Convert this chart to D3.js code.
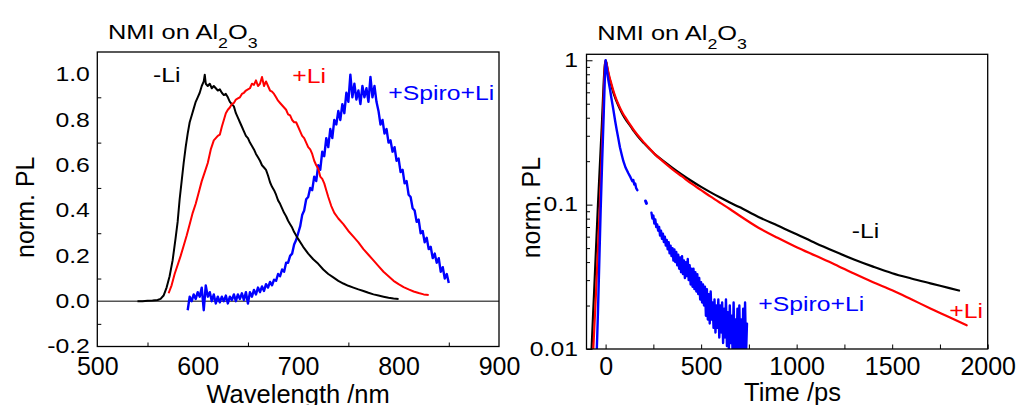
<!DOCTYPE html>
<html><head><meta charset="utf-8">
<script src="https://cdn.jsdelivr.net/npm/d3@7"></script>
<style>
body{margin:0;background:#fff}
svg{display:block}
text{font-family:"Liberation Sans",Arial,Helvetica,sans-serif}
</style>
</head><body>
<svg id="c" width="1019" height="405"></svg>
<script>
// ---------------- DATA ----------------
// Left panel: PL spectra (wavelength nm, normalised PL)
const wlBlack = [540,545,550,555,560,563,566,569,572,575,578,580,582,584,586,588,590,592,594,596,598,600,602,604,606,607,608,610,612,614,616,618,620,622,624,626,628,630,632,634,636,638,640,642,644,646,648,650,652,654,656,658,660,662,664,666,668,670,672,674,676,678,680,682,684,686,688,690,692,694,696,698,700,705,710,715,720,725,730,735,740,745,750,755,760,765,770,775,780,785,790,795,800];
const plBlack = [0.0,0.0,0.002,0.003,0.005,0.01,0.025,0.06,0.11,0.18,0.28,0.35,0.45,0.53,0.61,0.68,0.74,0.79,0.82,0.85,0.88,0.9,0.92,0.95,0.97,1.0,0.96,0.95,0.96,0.94,0.95,0.94,0.93,0.935,0.92,0.91,0.915,0.9,0.88,0.87,0.86,0.83,0.81,0.79,0.77,0.75,0.73,0.72,0.70,0.685,0.67,0.65,0.635,0.62,0.60,0.59,0.58,0.555,0.525,0.505,0.49,0.47,0.445,0.43,0.41,0.39,0.375,0.355,0.34,0.325,0.305,0.29,0.275,0.24,0.21,0.185,0.165,0.14,0.12,0.105,0.09,0.078,0.068,0.06,0.052,0.045,0.037,0.03,0.025,0.02,0.015,0.012,0.01];

const wlRed = [571,574,577,580,583,586,589,592,595,598,601,604,607,610,613,616,618,620,622,624,626,628,630,632,634,636,638,640,642,644,646,648,650,652,654,656,658,660,662,664,666,668,670,672,674,676,678,680,682,684,686,688,690,692,694,696,698,700,702,704,706,708,710,712,714,716,718,720,722,724,726,728,730,733,736,740,745,750,755,760,765,770,775,780,785,790,795,800,805,810,815,820,825,830];
const plRed = [0.035,0.07,0.12,0.16,0.2,0.245,0.29,0.34,0.39,0.43,0.48,0.53,0.57,0.61,0.67,0.71,0.72,0.73,0.735,0.77,0.8,0.83,0.845,0.855,0.87,0.875,0.89,0.895,0.9,0.915,0.92,0.93,0.935,0.94,0.96,0.955,0.975,0.95,0.96,0.99,0.95,0.97,0.95,0.93,0.925,0.915,0.9,0.885,0.875,0.865,0.855,0.845,0.825,0.82,0.8,0.79,0.79,0.77,0.75,0.73,0.72,0.70,0.68,0.67,0.65,0.62,0.6,0.585,0.55,0.54,0.52,0.49,0.46,0.42,0.39,0.365,0.34,0.31,0.285,0.26,0.23,0.205,0.18,0.155,0.13,0.11,0.09,0.075,0.062,0.052,0.043,0.036,0.03,0.027];

const wlBlue = d3.range(590, 851, 2);
const plBlue = [
 -0.04,0.02,0.0,0.03,0.01,0.04,0.02,0.06,-0.04,0.07,
 0.02,0.04,0.0,0.03,-0.01,0.02,-0.005,0.02,0.0,0.025,
 -0.01,0.02,0.005,0.03,0.0,0.03,0.01,0.035,0.005,0.04,
 -0.01,0.04,0.02,0.05,0.03,0.06,0.04,0.065,0.045,0.075,
 0.06,0.085,0.07,0.095,0.09,0.12,0.11,0.14,0.13,0.17,
 0.17,0.2,0.21,0.25,0.27,0.3,0.33,0.38,0.40,0.45,
 0.46,0.5,0.49,0.55,0.53,0.6,0.58,0.66,0.64,0.72,
 0.68,0.76,0.72,0.8,0.78,0.84,0.8,0.87,0.83,0.92,
 0.88,1.0,0.9,0.96,0.89,0.93,0.87,0.95,0.9,0.94,
 0.88,0.99,0.9,0.95,0.88,0.84,0.78,0.8,0.74,0.76,
 0.7,0.71,0.66,0.68,0.62,0.63,0.57,0.58,0.52,0.53,
 0.47,0.46,0.41,0.40,0.35,0.36,0.3,0.31,0.26,0.28,
 0.23,0.24,0.19,0.21,0.17,0.19,0.13,0.15,0.1,0.12,
 0.08];

const xTicksL = [500,600,700,800,900];
const xMinorL = [550,650,750,850];
const yTicksL = [-0.2,0.0,0.2,0.4,0.6,0.8,1.0];
const yMinorL = [-0.1,0.1,0.3,0.5,0.7,0.9];

// Right panel: PL decays (time ps, normalised PL, log)
const tBlack = [-80,-75,-60,-40,-20,-5,0,5,10,15,20,25,30,40,50,60,75,90,110,130,150,175,200,230,260,300,350,400,450,500,550,600,650,700,800,900,1000,1100,1200,1300,1400,1500,1600,1700,1800,1850];
const vBlack = [0.006,0.009,0.025,0.1,0.35,0.9,1.0,0.95,0.87,0.8,0.75,0.71,0.67,0.6,0.55,0.51,0.46,0.42,0.38,0.35,0.32,0.29,0.267,0.243,0.222,0.2018,0.1799,0.1614,0.1459,0.1327,0.1216,0.1119,0.1035,0.0962,0.0822,0.0716,0.0624,0.054,0.0473,0.0417,0.0372,0.0335,0.0308,0.0285,0.0264,0.0254];

const tRed = [-72,-66,-50,-30,-15,-4,0,10,20,30,40,50,60,75,90,110,130,150,175,200,230,260,300,350,400,450,500,550,600,650,700,800,900,1000,1100,1200,1300,1400,1500,1600,1700,1800,1890];
const vRed = [0.006,0.009,0.025,0.1,0.35,0.9,1.0,0.88,0.77,0.69,0.62,0.565,0.52,0.47,0.43,0.39,0.355,0.325,0.295,0.27,0.245,0.222,0.1995,0.1758,0.1567,0.1396,0.1259,0.1135,0.1028,0.0933,0.0841,0.0692,0.0589,0.0507,0.0442,0.0385,0.0333,0.029,0.0255,0.0221,0.0191,0.0166,0.0146];

const tBlueA = [-52,-47,-40,-33,-26,-18,-10,-4,0,5,10,15,23,30,40,50,58,66,75,85,93,105,119,130,140,145,150,155,160,166];
const vBlueA = [0.006,0.009,0.018,0.04,0.09,0.2,0.42,0.75,1.0,0.9,0.8,0.72,0.63,0.55,0.46,0.38,0.33,0.29,0.25,0.22,0.2,0.18,0.165,0.155,0.145,0.148,0.138,0.14,0.13,0.126];
const tBlueB = [209,214];
const vBlueB = [0.106,0.102];
const tBlueC = d3.range(240, 741, 5);
const vBlueC = [
 0.088,0.08,0.084,0.074,0.079,0.07,0.073,0.066,0.07,0.061,
 0.066,0.058,0.063,0.055,0.06,0.052,0.057,0.049,0.055,0.046,
 0.052,0.044,0.05,0.041,0.049,0.04,0.047,0.038,0.045,0.036,
 0.043,0.034,0.044,0.033,0.041,0.031,0.04,0.032,0.042,0.03,
 0.038,0.028,0.036,0.027,0.036,0.026,0.034,0.025,0.033,0.024,
 0.031,0.022,0.029,0.021,0.028,0.02,0.027,0.017,0.026,0.016,
 0.024,0.015,0.025,0.016,0.021,0.014,0.022,0.013,0.02,0.014,
 0.022,0.012,0.02,0.013,0.021,0.011,0.019,0.012,0.022,0.0105,
 0.018,0.0095,0.02,0.011,0.017,0.009,0.021,0.01,0.016,0.0085,
 0.019,0.009,0.02,0.0095,0.016,0.008,0.019,0.0095,0.021,0.009,
 0.015];

const xTicksR = [0,500,1000,1500,2000];
const xMinorR = [250,750,1250,1750];
const yTicksR = [0.01,0.1,1];
const yTickLabelsR = ["0.01","0.1","1"];
const yMinorR = [0.02,0.03,0.04,0.05,0.06,0.07,0.08,0.09,0.2,0.3,0.4,0.5,0.6,0.7,0.8,0.9];

const titleMain = "NMI on Al";
const yTitle = "norm. PL";

// ---------------- DRAW ----------------
const SX = 1.27;
const FONT = '"Liberation Sans",Arial,Helvetica,sans-serif';
const svg = d3.select('#c');
const zip = (a,b) => a.map((v,i)=>[v,b[i]]);

function stext(x, y, str, size, color, anchor){
  return svg.append('text')
    .attr('transform', `translate(${x},${y}) scale(${SX},1)`)
    .attr('font-size', size).attr('fill', color)
    .attr('text-anchor', anchor || 'start').text(str);
}
function stretchAxisText(g, size){
  g.selectAll('text').attr('font-size', size).attr('font-family', FONT).attr('fill','#000')
    .each(function(){ const t=d3.select(this); t.attr('x', (+t.attr('x'))/SX).attr('transform',`scale(${SX},1)`); });
}
function title(x, y){
  const t = svg.append('text').attr('transform',`translate(${x},${y}) scale(${SX},1)`).attr('font-size',20).attr('fill','#000');
  t.append('tspan').text(titleMain);
  t.append('tspan').attr('font-size',14).attr('dy',8.5).text('2');
  t.append('tspan').attr('font-size',20).attr('dy',-8.5).text('O');
  t.append('tspan').attr('font-size',14).attr('dy',8.5).text('3');
}

// ---- Left panel ----
const L = {x0:97.3, x1:499, y0:52, y1:346.5};
const xL = d3.scaleLinear().domain([500,900]).range([L.x0,L.x1]);
const yL = d3.scaleLinear().domain([-0.2,1.1]).range([L.y1,L.y0]);

svg.append('clipPath').attr('id','clipL').append('rect')
  .attr('x',L.x0).attr('y',L.y0).attr('width',L.x1-L.x0).attr('height',L.y1-L.y0);

svg.append('line').attr('x1',xL(500)).attr('x2',xL(900)).attr('y1',yL(0)).attr('y2',yL(0))
  .attr('stroke','#555').attr('stroke-width',1.6);

const lineL = d3.line().x(d=>xL(d[0])).y(d=>yL(d[1]));
const gL = svg.append('g').attr('clip-path','url(#clipL)').attr('fill','none').attr('stroke-linejoin','round');
gL.append('path').datum(zip(wlBlue,plBlue)).attr('d',lineL).attr('stroke','#0000ff').attr('stroke-width',2.4);
gL.append('path').datum(zip(wlBlack,plBlack)).attr('d',lineL).attr('stroke','#000').attr('stroke-width',2);
gL.append('path').datum(zip(wlRed,plRed)).attr('d',lineL).attr('stroke','#ff0000').attr('stroke-width',2);

const axYL = svg.append('g').attr('transform',`translate(${L.x0},0)`)
  .call(d3.axisLeft(yL).tickValues(yTicksL).tickFormat(d=>d.toFixed(1)).tickSize(0).tickPadding(7.5));
axYL.select('.domain').remove();
stretchAxisText(axYL, 19.5);
const axYLm = svg.append('g').attr('transform',`translate(${L.x0},0)`)
  .call(d3.axisLeft(yL).tickValues(yMinorL).tickFormat('').tickSize(-4));
axYLm.select('.domain').remove();
axYLm.selectAll('line').attr('stroke','#000').attr('stroke-width',1);

const axXL = svg.append('g').attr('transform',`translate(0,${L.y1})`)
  .call(d3.axisBottom(xL).tickValues(xTicksL).tickFormat(d3.format('d')).tickSize(0).tickPadding(10.8));
axXL.select('.domain').remove();
axXL.selectAll('text').attr('font-size',25).attr('font-family',FONT).attr('fill','#000');
const axXLm = svg.append('g').attr('transform',`translate(0,${L.y1})`)
  .call(d3.axisBottom(xL).tickValues(xMinorL).tickFormat('').tickSize(-4));
axXLm.select('.domain').remove();
axXLm.selectAll('line').attr('stroke','#000').attr('stroke-width',1);

svg.append('rect').attr('x',L.x0).attr('y',L.y0).attr('width',L.x1-L.x0).attr('height',L.y1-L.y0)
  .attr('fill','none').attr('stroke','#000').attr('stroke-width',1.3);

title(108, 39.3);
svg.append('text').attr('transform',`translate(33.5,${(L.y0+L.y1)/2+8}) rotate(-90)`)
  .attr('text-anchor','middle').attr('font-size',25).attr('fill','#000').text(yTitle);
svg.append('text').attr('x',(L.x0+L.x1)/2).attr('y',402.5).attr('text-anchor','middle')
  .attr('font-size',25.5).attr('fill','#000').text('Wavelength /nm');

stext(153, 81.7, '-Li', 19.5, '#000');
stext(292.3, 83.3, '+Li', 19.5, '#ff0000');
stext(388.3, 100, '+Spiro+Li', 19.5, '#0000ff');

// ---- Right panel ----
const R = {x0:586.5, x1:987.7, y0:54.3, y1:349};
const xR = d3.scaleLinear().domain([-100,2000]).range([R.x0,R.x1]);
const yR = d3.scaleLog().domain([0.01,1.1]).range([R.y1,R.y0]);

svg.append('clipPath').attr('id','clipR').append('rect')
  .attr('x',R.x0).attr('y',R.y0).attr('width',R.x1-R.x0).attr('height',R.y1-R.y0);

const lineR = d3.line().x(d=>xR(d[0])).y(d=>yR(Math.max(d[1],0.001)));
const lineRs = d3.line().curve(d3.curveMonotoneX).x(d=>xR(d[0])).y(d=>yR(Math.max(d[1],0.001)));
const gR = svg.append('g').attr('clip-path','url(#clipR)').attr('fill','none').attr('stroke-linejoin','round').attr('stroke-linecap','round');
gR.append('path').datum(zip(tBlack,vBlack)).attr('d',lineRs).attr('stroke','#000').attr('stroke-width',2.2);
gR.append('path').datum(zip(tRed,vRed)).attr('d',lineRs).attr('stroke','#ff0000').attr('stroke-width',2.2);
gR.append('path').datum(zip(tBlueA,vBlueA)).attr('d',lineR).attr('stroke','#0000ff').attr('stroke-width',2.4);
gR.append('path').datum(zip(tBlueB,vBlueB)).attr('d',lineR).attr('stroke','#0000ff').attr('stroke-width',3);
gR.append('path').datum(zip(tBlueC,vBlueC)).attr('d',lineR).attr('stroke','#0000ff').attr('stroke-width',2.4);

const axYR = svg.append('g').attr('transform',`translate(${R.x0},0)`)
  .call(d3.axisLeft(yR).tickValues(yTicksR).tickFormat((d,i)=>yTickLabelsR[i]).tickSize(-6).tickPadding(8.5));
axYR.select('.domain').remove();
axYR.selectAll('line').attr('stroke','#000').attr('stroke-width',1);
stretchAxisText(axYR, 19.5);
const axYRm = svg.append('g').attr('transform',`translate(${R.x0},0)`)
  .call(d3.axisLeft(yR).tickValues(yMinorR).tickFormat('').tickSize(-3.5));
axYRm.select('.domain').remove();
axYRm.selectAll('line').attr('stroke','#000').attr('stroke-width',1);

const axXR = svg.append('g').attr('transform',`translate(0,${R.y1})`)
  .call(d3.axisBottom(xR).tickValues(xTicksR).tickFormat(d3.format('d')).tickSize(-4.5).tickPadding(8.3));
axXR.select('.domain').remove();
axXR.selectAll('line').attr('stroke','#000').attr('stroke-width',1);
axXR.selectAll('text').attr('font-size',25).attr('font-family',FONT).attr('fill','#000');
const axXRm = svg.append('g').attr('transform',`translate(0,${R.y1})`)
  .call(d3.axisBottom(xR).tickValues(xMinorR).tickFormat('').tickSize(-4.5));
axXRm.select('.domain').remove();
axXRm.selectAll('line').attr('stroke','#000').attr('stroke-width',1);

svg.append('rect').attr('x',R.x0).attr('y',R.y0).attr('width',R.x1-R.x0).attr('height',R.y1-R.y0)
  .attr('fill','none').attr('stroke','#000').attr('stroke-width',1.3);

title(597.3, 40);
svg.append('text').attr('transform',`translate(540,${(R.y0+R.y1)/2+6}) rotate(-90)`)
  .attr('text-anchor','middle').attr('font-size',25).attr('fill','#000').text(yTitle);
svg.append('text').attr('x',792.5).attr('y',400.5).attr('text-anchor','middle')
  .attr('font-size',25.5).attr('fill','#000').text('Time /ps');

stext(851.7, 238.3, '-Li', 19.5, '#000');
stext(758.3, 311, '+Spiro+Li', 19.5, '#0000ff');
stext(949.3, 318.3, '+Li', 19.5, '#ff0000');
</script>
</body></html>
